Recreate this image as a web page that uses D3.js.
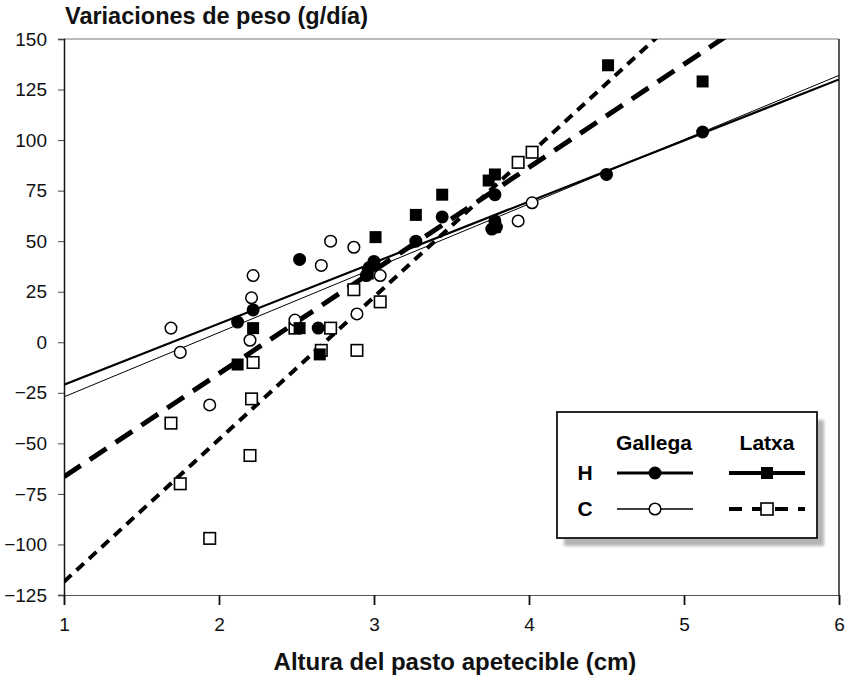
<!DOCTYPE html>
<html>
<head>
<meta charset="utf-8">
<script src="https://cdn.jsdelivr.net/npm/d3@7"></script>
<style>
  body { margin: 0; background: #fff; }
  svg { display: block; font-family: "Liberation Sans", Arial, sans-serif; }
</style>
</head>
<body>
<svg id="chart" width="848" height="678"></svg>
<script>
// tick values
const xTicks = [1, 2, 3, 4, 5, 6];
const yTicks = [-125, -100, -75, -50, -25, 0, 25, 50, 75, 100, 125, 150];

// Gallega H (filled circles)
const gallegaH = [
  [2.12, 10], [2.22, 16], [2.52, 41], [2.64, 7], [2.95, 33], [2.97, 37], [3.0, 40],
  [3.27, 50], [3.44, 62], [3.76, 56], [3.78, 60], [3.79, 57], [3.78, 73], [4.5, 83], [5.12, 104]
];
// Gallega C (open circles)
const gallegaC = [
  [1.69, 7], [1.75, -5], [1.94, -31], [2.2, 1], [2.21, 22], [2.22, 33], [2.49, 11],
  [2.66, 38], [2.72, 50], [2.87, 47], [2.89, 14], [3.04, 33], [3.93, 60], [4.02, 69]
];
// Latxa H (filled squares)
const latxaH = [
  [2.12, -11], [2.22, 7], [2.52, 7], [2.65, -6], [2.96, 34], [3.01, 52], [3.27, 63],
  [3.44, 73], [3.74, 80], [3.78, 83], [3.78, 57], [4.51, 137], [5.12, 129]
];
// Latxa C (open squares)
const latxaC = [
  [1.69, -40], [1.75, -70], [1.94, -97], [2.2, -56], [2.21, -28], [2.22, -10], [2.49, 7],
  [2.66, -4], [2.72, 7], [2.87, 26], [2.89, -4], [3.04, 20], [3.93, 89], [4.02, 94]
];

// fitted lines, value at x=1 and x=6
const fitGallegaH = [[1, -21], [6, 130]];
const fitGallegaC = [[1, -27], [6, 132]];
const fitLatxaH = [[1, -66.5], [6, 188.5]];
const fitLatxaC = [[1, -118.4], [6, 233.6]];

const svg = d3.select("#chart");
const margin = { left: 64, right: 9, top: 39, bottom: 83 };
const W = 848, H = 678;

const x = d3.scaleLinear().domain([1, 6]).range([margin.left, W - margin.right]);
const y = d3.scaleLinear().domain([-125, 150]).range([H - margin.bottom, margin.top]);

const defs = svg.append("defs");
defs.append("clipPath").attr("id", "plotClip")
  .append("rect")
  .attr("x", x(1)).attr("y", y(150))
  .attr("width", x(6) - x(1)).attr("height", y(-125) - y(150));

// frame: top and right
svg.append("line")
  .attr("x1", x(1)).attr("x2", x(6)).attr("y1", y(150)).attr("y2", y(150))
  .attr("stroke", "#777").attr("stroke-width", 1);
svg.append("line")
  .attr("x1", x(6)).attr("x2", x(6)).attr("y1", y(150)).attr("y2", y(-125))
  .attr("stroke", "#222").attr("stroke-width", 1.5);

// axes
const yAxis = svg.append("g")
  .attr("transform", `translate(${x(1)},0)`)
  .call(d3.axisLeft(y).tickValues(yTicks).tickSize(6).tickPadding(11));
yAxis.select(".domain").attr("stroke", "#111").attr("stroke-width", 1.5);
yAxis.selectAll(".tick line").attr("stroke", "#444");
yAxis.selectAll("text").attr("font-size", 19).attr("fill", "#111");

const xAxis = svg.append("g")
  .attr("transform", `translate(0,${y(-125)})`)
  .call(d3.axisBottom(x).tickValues(xTicks).tickSize(10).tickPadding(13).tickFormat(d3.format("d")));
xAxis.select(".domain").attr("stroke", "#555").attr("stroke-width", 1.2);
xAxis.selectAll(".tick line").attr("stroke", "#111").attr("stroke-width", 1.8);
xAxis.selectAll("text").attr("font-size", 19).attr("fill", "#111");

// titles
svg.append("text")
  .attr("x", 65).attr("y", 24)
  .attr("font-size", 23.5).attr("font-weight", "bold").attr("fill", "#111")
  .text("Variaciones de peso (g/día)");
svg.append("text")
  .attr("x", 455).attr("y", 670)
  .attr("text-anchor", "middle")
  .attr("font-size", 24).attr("font-weight", "bold").attr("fill", "#111")
  .text("Altura del pasto apetecible (cm)");

// regression lines
const line = d3.line().x(d => x(d[0])).y(d => y(d[1]));
const plot = svg.append("g").attr("clip-path", "url(#plotClip)");

const lineStyles = [
  { data: fitGallegaH, width: 2.2, dash: null },
  { data: fitGallegaC, width: 1, dash: null },
  { data: fitLatxaH, width: 5, dash: "20,11" },
  { data: fitLatxaC, width: 4, dash: "10,7" }
];
lineStyles.forEach(s => {
  plot.append("path")
    .attr("d", line(s.data))
    .attr("fill", "none")
    .attr("stroke", "#000")
    .attr("stroke-width", s.width)
    .attr("stroke-dasharray", s.dash);
});

// markers
const marks = svg.append("g");
function circles(data, filled) {
  marks.append("g").selectAll("circle")
    .data(data)
    .join("circle")
    .attr("cx", d => x(d[0])).attr("cy", d => y(d[1]))
    .attr("r", filled ? 6.5 : 5.8)
    .attr("fill", filled ? "#000" : "#fff")
    .attr("stroke", "#000")
    .attr("stroke-width", filled ? 0 : 1.5);
}
function squares(data, filled) {
  const s = filled ? 12 : 11.5;
  marks.append("g").selectAll("rect")
    .data(data)
    .join("rect")
    .attr("x", d => x(d[0]) - s / 2).attr("y", d => y(d[1]) - s / 2)
    .attr("width", s).attr("height", s)
    .attr("fill", filled ? "#000" : "#fff")
    .attr("stroke", "#000")
    .attr("stroke-width", filled ? 0 : 1.6);
}
squares(latxaC, false);
circles(gallegaC, false);
squares(latxaH, true);
circles(gallegaH, true);

// legend
const lg = svg.append("g").attr("transform", "translate(557,412)");
const lw = 260, lh = 126;
const blur = defs.append("filter").attr("id", "shadowBlur")
  .attr("x", "-10%").attr("y", "-10%").attr("width", "120%").attr("height", "130%");
blur.append("feGaussianBlur").attr("stdDeviation", 1.5);
lg.append("rect")
  .attr("x", 7).attr("y", 8).attr("width", lw).attr("height", lh)
  .attr("fill", "#b5b5b5").attr("filter", "url(#shadowBlur)");
lg.append("rect")
  .attr("width", lw).attr("height", lh)
  .attr("fill", "#fff").attr("stroke", "#111").attr("stroke-width", 1.8);

const legendFont = 21;
lg.append("text").attr("x", 97).attr("y", 38).attr("text-anchor", "middle")
  .attr("font-size", legendFont).attr("font-weight", "bold").text("Gallega");
lg.append("text").attr("x", 210).attr("y", 38).attr("text-anchor", "middle")
  .attr("font-size", legendFont).attr("font-weight", "bold").text("Latxa");
lg.append("text").attr("x", 28).attr("y", 68).attr("text-anchor", "middle")
  .attr("font-size", legendFont).attr("font-weight", "bold").text("H");
lg.append("text").attr("x", 28).attr("y", 104).attr("text-anchor", "middle")
  .attr("font-size", legendFont).attr("font-weight", "bold").text("C");

const legendRows = [
  { cx: 98, cy: 61, width: 3, dash: null, shape: "circle", filled: true },
  { cx: 210, cy: 61, width: 4, dash: null, shape: "square", filled: true },
  { cx: 98, cy: 97, width: 1.5, dash: null, shape: "circle", filled: false },
  { cx: 210, cy: 97, width: 4, dash: "13,10", shape: "square", filled: false }
];
legendRows.forEach(r => {
  lg.append("line")
    .attr("x1", r.cx - 38).attr("x2", r.cx + 38)
    .attr("y1", r.cy).attr("y2", r.cy)
    .attr("stroke", "#000").attr("stroke-width", r.width)
    .attr("stroke-dasharray", r.dash);
  if (r.shape === "circle") {
    lg.append("circle").attr("cx", r.cx).attr("cy", r.cy).attr("r", r.filled ? 6.5 : 5.8)
      .attr("fill", r.filled ? "#000" : "#fff").attr("stroke", "#000")
      .attr("stroke-width", r.filled ? 0 : 1.5);
  } else {
    lg.append("rect").attr("x", r.cx - 6).attr("y", r.cy - 6).attr("width", 12).attr("height", 12)
      .attr("fill", r.filled ? "#000" : "#fff").attr("stroke", "#000")
      .attr("stroke-width", r.filled ? 0 : 1.6);
  }
});
</script>
</body>
</html>
